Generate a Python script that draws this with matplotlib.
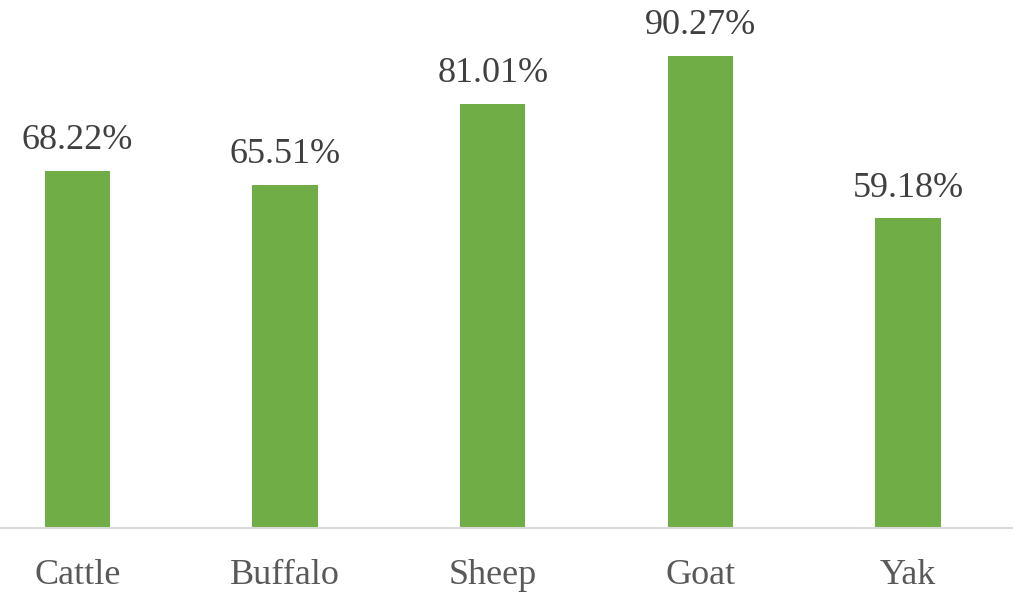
import matplotlib.pyplot as plt

animals = ["Cattle", "Buffalo", "Sheep", "Goat", "Yak"]
values = [68.22, 65.51, 81.01, 90.27, 59.18]

plt.rcParams['font.family'] = ['Liberation Serif', 'DejaVu Serif']

fig = plt.figure(figsize=(10.17, 5.93), dpi=100)
# axes slightly wider than the figure on the left, like the cropped original
left = -26.5 / 1017
bottom = (593 - 528) / 593
ax = fig.add_axes([left, bottom, (1012 + 26.5) / 1017, (528 - 5) / 593])

x = range(len(animals))
bars = ax.bar(x, values, width=0.315, color='#70AD47', zorder=2)

for i, v in enumerate(values):
    ax.annotate(f"{v:.2f}%", (i, v), xytext=(0, 10), textcoords='offset points',
                ha='center', va='bottom', fontsize=26, color='#404040')

ax.set_xlim(-0.5, len(animals) - 0.5)
ax.set_ylim(0, 100)
ax.set_xticks(list(x))
ax.set_xticklabels(animals, fontsize=26, color='#595959')
ax.tick_params(axis='x', length=0, pad=22)
ax.set_yticks([])

for s in ['top', 'right', 'left']:
    ax.spines[s].set_visible(False)
ax.spines['bottom'].set_color('#D9D9D9')
ax.spines['bottom'].set_linewidth(1.5)

fig.savefig('out.png', dpi=100)
